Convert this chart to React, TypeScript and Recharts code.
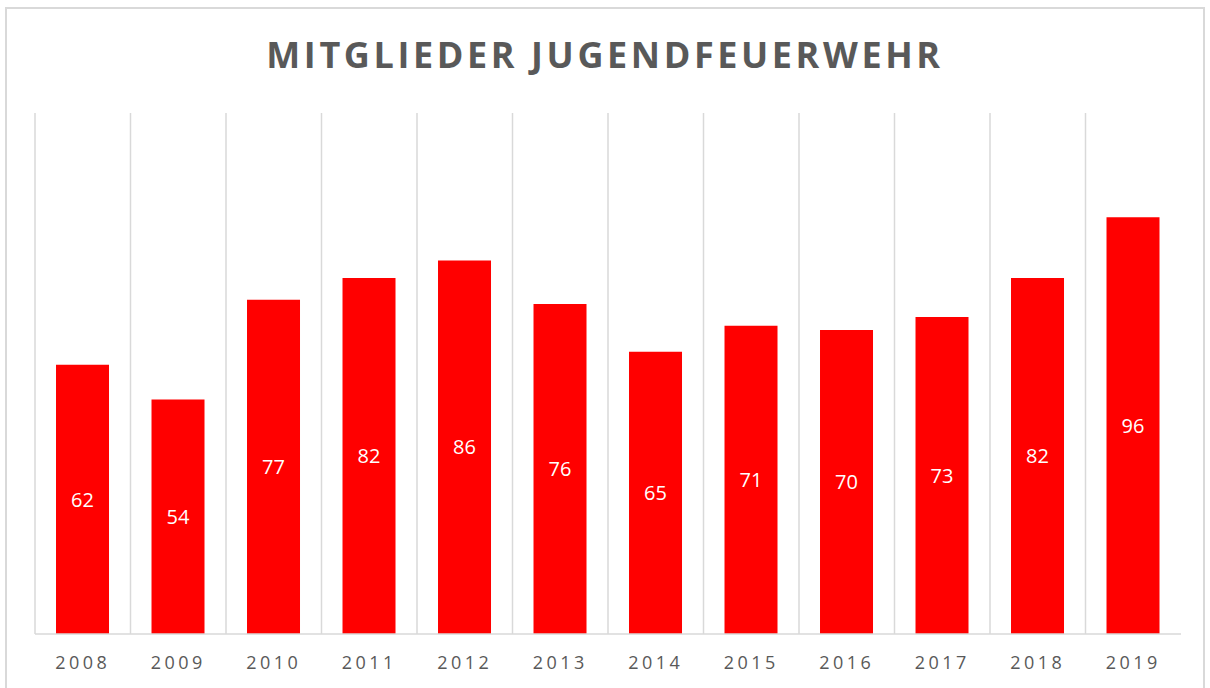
import React from 'react';
import { BarChart, Bar, XAxis, YAxis, CartesianGrid, LabelList } from 'recharts';

const years = ['2008', '2009', '2010', '2011', '2012', '2013', '2014', '2015', '2016', '2017', '2018', '2019'];
const members = [62, 54, 77, 82, 86, 76, 65, 71, 70, 73, 82, 96];

const data = years.map((year, i) => ({ year, members: members[i] }));

const FONT = '"Open Sans", "Noto Sans", sans-serif';

// gridlines sit between categories, not on the ticks
const bandLines = ({ offset }: any) => {
  const n = years.length;
  const step = offset.width / n;
  return Array.from({ length: n }, (_, i) => offset.left + i * step);
};

export default function App() {
  return (
    <div style={{ position: 'absolute', left: 0, top: 0, width: 1210, height: 688, background: '#fff', overflow: 'hidden' }}>
      <div
        style={{
          position: 'absolute',
          left: 5,
          top: 7,
          width: 1200,
          height: 700,
          border: '2px solid #d9d9d9',
          boxSizing: 'border-box',
        }}
      />
      <div
        style={{
          position: 'absolute',
          left: 0,
          top: 30,
          width: 1210,
          textAlign: 'center',
          fontFamily: FONT,
          fontWeight: 700,
          fontSize: 36,
          letterSpacing: 3.6,
          color: '#595959',
          lineHeight: '50px',
        }}
      >
        MITGLIEDER JUGENDFEUERWEHR
      </div>
      <div style={{ position: 'absolute', left: 0, top: 0 }}>
        <BarChart
          width={1210}
          height={688}
          data={data}
          margin={{ top: 113, right: 29, left: 35, bottom: 14 }}
          barCategoryGap="22%"
        >
          <CartesianGrid
            vertical
            horizontal={false}
            stroke="#d9d9d9"
            strokeWidth={1.5}
            verticalCoordinatesGenerator={bandLines}
          />
          <XAxis
            dataKey="year"
            height={40}
            tickLine={false}
            axisLine={{ stroke: '#d9d9d9', strokeWidth: 1.5 }}
            tickMargin={16}
            tick={{ fill: '#595959', fontSize: 18, fontFamily: FONT, letterSpacing: 3.5 }}
            interval={0}
          />
          <YAxis hide domain={[0, 120]} />
          <Bar dataKey="members" fill="#ff0000" isAnimationActive={false}>
            <LabelList
              dataKey="members"
              position="center"
              fill="#ffffff"
              style={{ fontSize: 20, fontFamily: FONT }}
            />
          </Bar>
        </BarChart>
      </div>
    </div>
  );
}
